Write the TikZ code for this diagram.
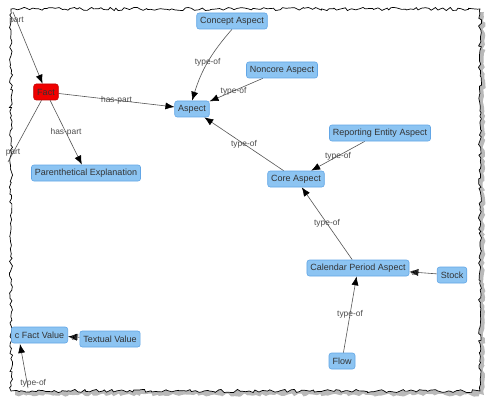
\documentclass[tikz,border=0pt]{standalone}
\usepackage{fontspec}
\setmainfont{Liberation Sans}
\usetikzlibrary{arrows.meta,decorations.pathmorphing}
\pgfdeclarelayer{paper}
\pgfdeclarelayer{edges}
\pgfsetlayers{paper,edges,main}
\definecolor{boxfill}{HTML}{8CC4F2}
\definecolor{boxline}{HTML}{62A6E6}
\definecolor{factfill}{HTML}{F00000}
\definecolor{factline}{HTML}{C00000}
\definecolor{edgegray}{HTML}{555555}
\tikzset{
  aspectbox/.style={draw=boxline,fill=boxfill,rounded corners=2.5pt,text=black!80,
    font=\fontsize{9}{10}\selectfont,inner sep=0pt,minimum height=16pt,
    inner xsep=3.5pt,line width=0.6pt},
  factbox/.style={aspectbox,draw=factline,fill=factfill},
  rel/.style={-{Latex[length=9pt,width=7pt,color=black]},draw=edgegray,line width=0.6pt},
  rellabel/.style={font=\fontsize{8.4}{9}\selectfont,text=black!70,inner sep=0.5pt},
  torn/.style={decorate,decoration={random steps,segment length=3pt,amplitude=1.6pt}}
}
\begin{document}
\begin{tikzpicture}[x=1pt,y=-1pt]
\useasboundingbox (0,0) rectangle (500,401);
  % torn paper frame with shadow
  \begin{pgfonlayer}{paper}
    \pgfmathsetseed{7}
    \fill[gray!55,torn] (15,12) -- (484,12) -- (484,395) -- (15,395) -- cycle;
    \pgfmathsetseed{7}
    \draw[fill=white,line width=0.7pt,torn] (11,9) -- (480,9) -- (480,391) -- (11,391) -- cycle;
  \end{pgfonlayer}
  \begin{scope}
  \clip (11,9) rectangle (480,391);
  % nodes
  \node[aspectbox] (concept) at (232,21) {Concept Aspect};
  \node[aspectbox] (noncore) at (282,70) {Noncore Aspect};
  \node[factbox] (fact) at (46,92) {Fact};
  \node[aspectbox] (aspect) at (192,109) {Aspect};
  \node[aspectbox] (paren) at (86,173) {Parenthetical Explanation};
  \node[aspectbox] (reporting) at (380,133) {Reporting Entity Aspect};
  \node[aspectbox] (core) at (296,179) {Core Aspect};
  \node[aspectbox] (calendar) at (358,268) {Calendar Period Aspect};
  \node[aspectbox] (stock) at (452,275) {Stock};
  \node[aspectbox] (flow) at (342,361) {Flow};
  \node[aspectbox,anchor=east] (numeric) at (68,335) {c Fact Value};
  \node[aspectbox] (textual) at (110,339) {Textual Value};
  \coordinate (topleft) at (13,12);
  \coordinate (midleft) at (8,162);
  \coordinate (botleft) at (28,388);
  \coordinate (numtip) at (20,344);
  % connectors
  \begin{pgfonlayer}{edges}
    \draw[rel] (concept.south) to[bend right=12] node[rellabel] {type-of} (aspect.north);
    \draw[rel] (noncore) -- node[rellabel,pos=0.55] {type-of} (aspect);
    \draw[rel] (core) -- node[rellabel] {type-of} (aspect);
    \draw[rel] (fact) -- node[rellabel,pos=0.5] {has-part} (aspect);
    \draw[rel] (fact) -- node[rellabel] {has-part} (paren);
    \draw[rel] (topleft) -- node[rellabel,pos=0.12] {part} (fact);
    \draw[draw=edgegray,line width=0.6pt] (fact) -- node[rellabel,pos=0.85] {part} (midleft);
    \draw[rel] (reporting) -- node[rellabel] {type-of} (core);
    \draw[rel] (calendar) -- node[rellabel] {type-of} (core);
    \draw[rel] (flow) -- node[rellabel] {type-of} (calendar);
    \draw[rel] (stock) -- node[rellabel,pos=0.8] {of} (calendar);
    \draw[rel] (textual) -- node[rellabel,pos=0.4] {of} (numeric);
    \draw[rel] (botleft) -- node[rellabel,pos=0.1,xshift=6pt] {type-of} (numtip);
  \end{pgfonlayer}
  \end{scope}
\end{tikzpicture}
\end{document}
